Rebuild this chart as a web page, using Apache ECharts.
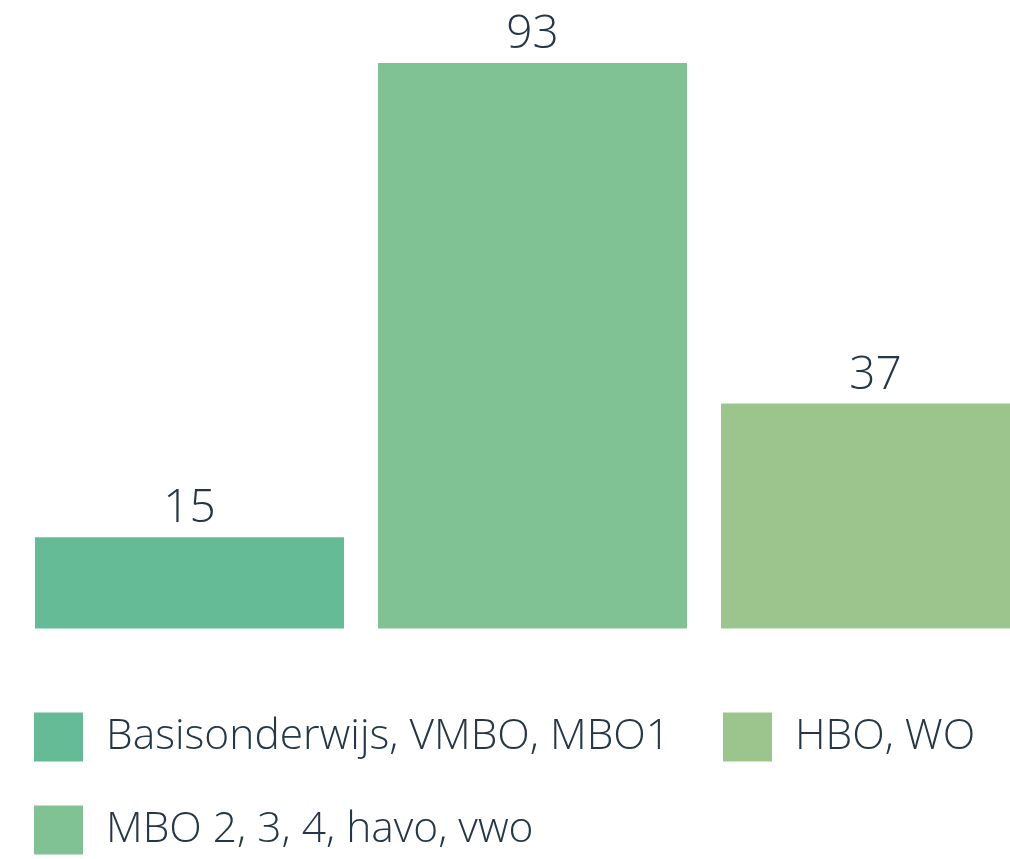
<!DOCTYPE html>
<html>
<head>
<meta charset="utf-8">
<script src="https://cdn.jsdelivr.net/npm/echarts@6/dist/echarts.min.js"></script>
<style>
html,body{margin:0;padding:0;background:#fff;}
#chart{width:1010px;height:859px;}
</style>
</head>
<body>
<div id="chart"></div>
<script>
const categories = ['Basisonderwijs, VMBO, MBO1', 'MBO 2, 3, 4, havo, vwo', 'HBO, WO'];
const values = [15, 93, 37];
const colors = ['#65bb96', '#80c293', '#9cc58e'];
const textColor = '#253746';
const fontFamily = "'Open Sans', sans-serif";

const series = categories.map(function (name, i) {
  return {
    name: name,
    type: 'bar',
    stack: 'all',
    barWidth: 309,
    itemStyle: { color: colors[i] },
    label: {
      show: true,
      position: 'top',
      distance: 5,
      color: textColor,
      fontFamily: fontFamily,
      fontWeight: 300,
      fontSize: 46
    },
    emphasis: { disabled: true },
    data: values.map(function (v, j) { return j === i ? v : '-'; })
  };
});

const legendText = {
  color: textColor,
  fontFamily: fontFamily,
  fontWeight: 300,
  fontSize: 42.5,
  padding: [0, 0, 0, 18]
};

const chart = echarts.init(document.getElementById('chart'), null, { renderer: 'canvas' });
chart.setOption({
  animation: false,
  grid: { left: 18, top: 20.5, width: 1029, height: 608, containLabel: false, outerBoundsMode: 'none' },
  xAxis: {
    type: 'category',
    data: categories,
    show: false
  },
  yAxis: {
    type: 'value',
    min: 0,
    max: 100,
    show: false,
    splitLine: { show: false }
  },
  legend: [
    {
      data: [categories[0], categories[1]],
      orient: 'vertical',
      left: 34,
      top: 712.5,
      padding: 0,
      icon: 'rect',
      itemWidth: 49,
      itemHeight: 49,
      itemGap: 44,
      textStyle: legendText,
      selectedMode: false
    },
    {
      data: [categories[2]],
      orient: 'vertical',
      left: 723,
      top: 712.5,
      padding: 0,
      icon: 'rect',
      itemWidth: 49,
      itemHeight: 49,
      itemGap: 44,
      textStyle: legendText,
      selectedMode: false
    }
  ],
  series: series
});
</script>
</body>
</html>
